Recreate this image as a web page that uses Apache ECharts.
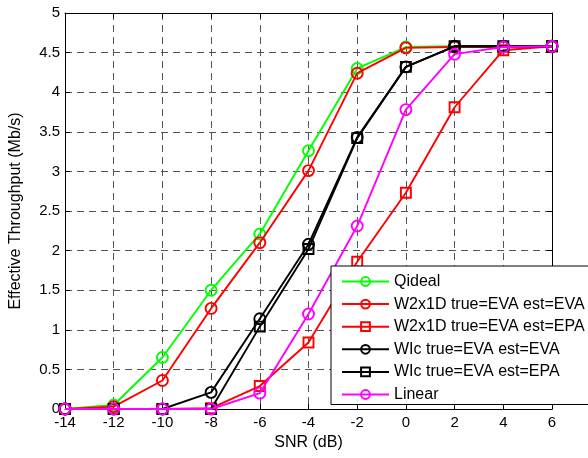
<!DOCTYPE html>
<html><head><meta charset="utf-8">
<script src="https://cdn.jsdelivr.net/npm/echarts@6/dist/echarts.min.js"></script>
<style>html,body{margin:0;padding:0;background:#fff}#c{width:588px;height:458px}</style>
</head><body><div id="c"></div>
<script>
const snr = [-14, -12, -10, -8, -6, -4, -2, 0, 2, 4, 6];
const qideal = [0, 0.05, 0.65, 1.50, 2.21, 3.26, 4.30, 4.57, 4.58, 4.58, 4.58];
const w2x1dEva = [0, 0.03, 0.36, 1.27, 2.10, 3.01, 4.24, 4.56, 4.57, 4.57, 4.58];
const w2x1dEpa = [0, 0, 0, 0.01, 0.29, 0.84, 1.86, 2.73, 3.81, 4.53, 4.58];
const wicEva = [0, 0, 0, 0.21, 1.14, 2.08, 3.43, 4.32, 4.58, 4.58, 4.58];
const wicEpa = [0, 0, 0, 0, 1.04, 2.02, 3.42, 4.32, 4.58, 4.58, 4.58];
const linear = [0, 0, 0, 0, 0.20, 1.20, 2.31, 3.78, 4.48, 4.57, 4.58];
const names = ['Qideal', 'W2x1D true=EVA est=EVA', 'W2x1D true=EVA est=EPA', 'WIc true=EVA est=EVA', 'WIc true=EVA est=EPA', 'Linear'];
const colors = ['#00ff00', '#ff0000', '#ff0000', '#000000', '#000000', '#ff00ff'];
const symbols = ['circle', 'circle', 'rect', 'circle', 'rect', 'circle'];
const values = [qideal, w2x1dEva, w2x1dEpa, wicEva, wicEpa, linear];

const font = 'Liberation Sans, Arial, sans-serif';
const chart = echarts.init(document.getElementById('c'), null, {renderer: 'canvas'});
const series = names.map((n, i) => ({
  name: n,
  type: 'line',
  data: snr.map((x, j) => [x, values[i][j]]),
  symbol: symbols[i],
  symbolSize: symbols[i] === 'rect' ? 10 : 11,
  showAllSymbol: true,
  clip: false,
  lineStyle: {color: colors[i], width: 1.9},
  itemStyle: {color: 'rgba(255,255,255,0)', borderColor: colors[i], borderWidth: 1.9},
  emphasis: {disabled: true},
  z: 3 + i
}));

const gridLine = {show: true, lineStyle: {color: '#555', type: [7, 5], width: 1}};
const tick = {show: true, inside: true, length: 5, lineStyle: {color: '#000'}};
chart.setOption({
  animation: false,
  backgroundColor: '#fff',
  grid: {left: 62, right: 36, top: 13, bottom: 49, containLabel: false},
  xAxis: [{
    type: 'value', min: -14, max: 6, interval: 2,
    name: 'SNR (dB)', nameLocation: 'middle', nameGap: 24,
    nameTextStyle: {fontFamily: font, fontSize: 16, color: '#000'},
    axisLine: {show: true, onZero: false, lineStyle: {color: '#000', width: 1}},
    axisTick: tick,
    axisLabel: {fontFamily: font, fontSize: 15, color: '#000', margin: 6},
    splitLine: gridLine
  }, {
    type: 'value', min: -14, max: 6, interval: 2, position: 'top',
    axisLine: {show: true, onZero: false, lineStyle: {color: '#000', width: 1}},
    axisTick: tick, axisLabel: {show: false}, splitLine: {show: false}
  }],
  yAxis: [{
    type: 'value', min: 0, max: 5, interval: 0.5,
    name: 'Effective Throughput (Mb/s)', nameLocation: 'middle', nameGap: 41, nameRotate: 90,
    nameTextStyle: {fontFamily: font, fontSize: 16, color: '#000'},
    axisLine: {show: true, onZero: false, lineStyle: {color: '#000', width: 1}},
    axisTick: tick,
    axisLabel: {fontFamily: font, fontSize: 15, color: '#000', margin: 5},
    splitLine: gridLine
  }, {
    type: 'value', min: 0, max: 5, interval: 0.5, position: 'right',
    axisLine: {show: true, onZero: false, lineStyle: {color: '#000', width: 1}},
    axisTick: tick, axisLabel: {show: false}, splitLine: {show: false}
  }],
  legend: {
    orient: 'vertical', left: 331, top: 266,
    padding: [7.5, 60, 2, 10],
    backgroundColor: '#fff', borderColor: '#000', borderWidth: 1,
    itemWidth: 47, itemHeight: 11, itemGap: 6.6,
    textStyle: {fontFamily: font, fontSize: 16, color: '#000'},
    data: names,
    z: 20
  },
  series: series
});
</script></body></html>
